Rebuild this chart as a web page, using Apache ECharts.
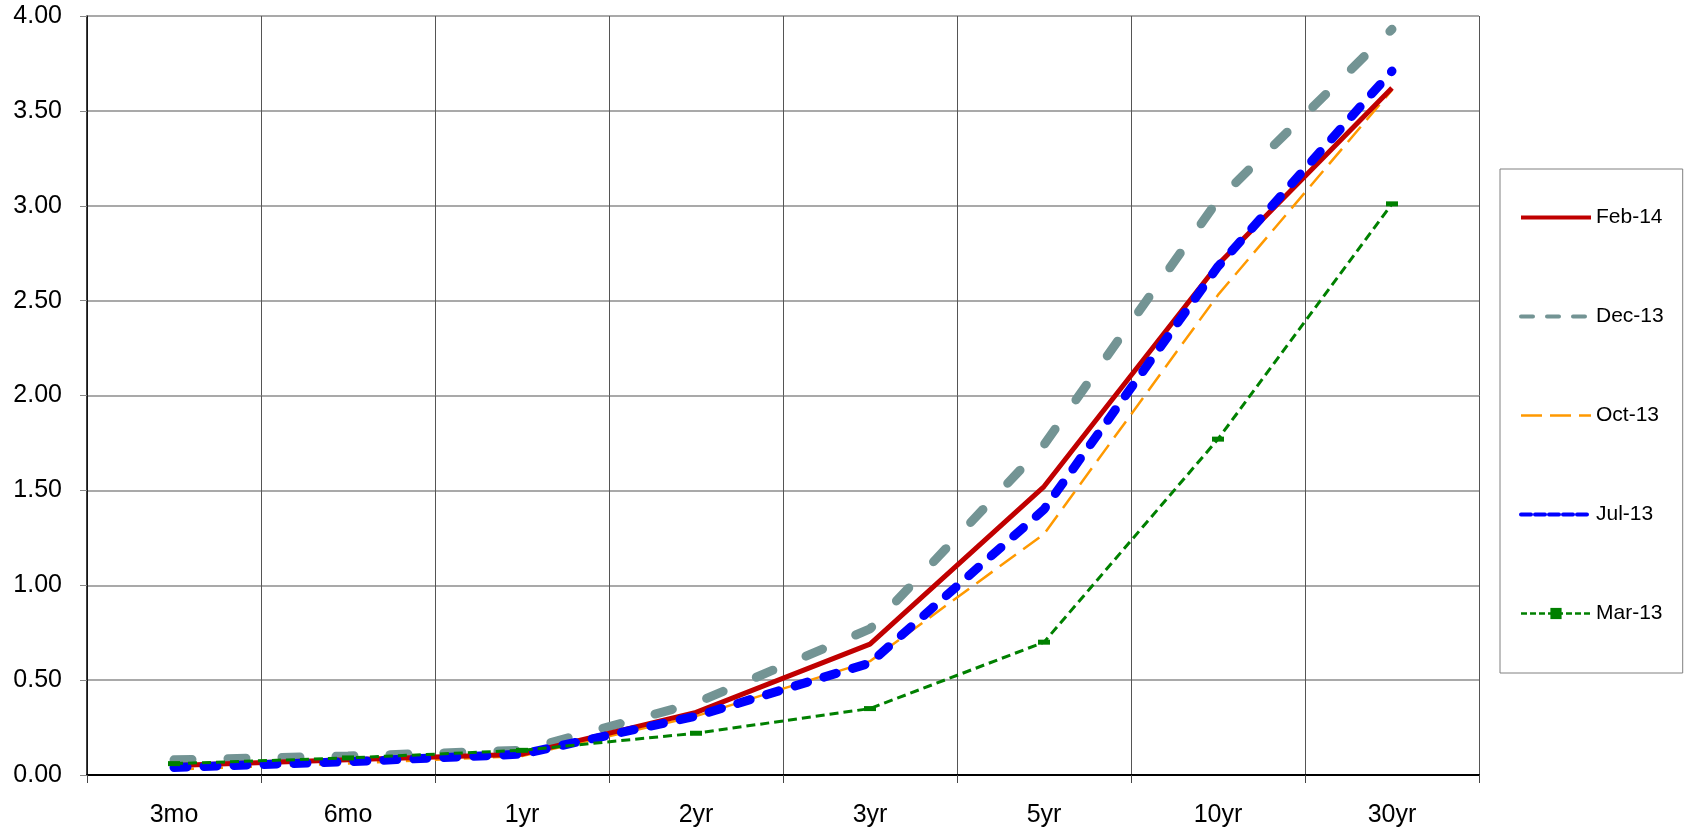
<!DOCTYPE html>
<html>
<head>
<meta charset="utf-8">
<script src="https://cdn.jsdelivr.net/npm/echarts@6/dist/echarts.min.js"></script>
<style>
html,body{margin:0;padding:0;background:#fff;}
#chart{width:1684px;height:833px;}
</style>
</head>
<body>
<div id="chart"></div>
<script>
var categories = ['3mo', '6mo', '1yr', '2yr', '3yr', '5yr', '10yr', '30yr'];
var feb14 = [0.05, 0.08, 0.11, 0.33, 0.69, 1.52, 2.69, 3.62];
var dec13 = [0.08, 0.10, 0.13, 0.38, 0.77, 1.74, 3.03, 3.93];
var oct13 = [0.03, 0.06, 0.10, 0.31, 0.60, 1.27, 2.53, 3.61];
var jul13 = [0.04, 0.07, 0.11, 0.31, 0.59, 1.40, 2.68, 3.71];
var mar13 = [0.06, 0.09, 0.13, 0.22, 0.35, 0.70, 1.77, 3.01];
var seriesNames = ['Feb-14', 'Dec-13', 'Oct-13', 'Jul-13', 'Mar-13'];

var FONT = 'Liberation Sans, Arial, sans-serif';
var chart = echarts.init(document.getElementById('chart'), null, {renderer: 'canvas'});
chart.setOption({
  animation: false,
  backgroundColor: '#ffffff',
  grid: {left: 87, right: 205, top: 16, bottom: 58},
  legend: {
    orient: 'vertical',
    left: 1500,
    top: 169,
    padding: [38, 19, 49, 19],
    borderColor: '#808080',
    borderWidth: 1,
    itemWidth: 70,
    itemHeight: 14,
    itemGap: 78,
    textStyle: {fontFamily: FONT, fontSize: 21, color: '#000'},
    data: [
      {name: seriesNames[0], itemStyle: {opacity: 0}, lineStyle: {width: 4, type: 'solid', color: '#c00000'}},
      {name: seriesNames[1], itemStyle: {opacity: 0}, lineStyle: {width: 4, type: [12, 14], color: '#739494'}},
      {name: seriesNames[2], itemStyle: {opacity: 0}, lineStyle: {width: 2.5, type: [21, 8], color: '#ff9900'}},
      {name: seriesNames[3], itemStyle: {opacity: 0}, lineStyle: {width: 4, type: [10, 4], color: '#0000ff'}},
      {name: seriesNames[4], lineStyle: {width: 2.5, type: [6, 3], color: '#008000'}}
    ]
  },
  xAxis: {
    type: 'category',
    data: categories,
    boundaryGap: true,
    axisLine: {lineStyle: {color: '#000', width: 2}},
    axisTick: {show: true, length: 8, interval: 0, lineStyle: {color: '#444', width: 1}},
    axisLabel: {fontFamily: FONT, fontSize: 25, color: '#000', margin: 28, interval: 0},
    splitLine: {show: true, interval: 0, lineStyle: {color: '#555', width: 1}}
  },
  yAxis: {
    type: 'value',
    min: 0, max: 4, interval: 0.5,
    axisLine: {show: true, lineStyle: {color: '#000', width: 1.5}},
    axisTick: {show: true, length: 7, lineStyle: {color: '#888'}},
    axisLabel: {fontFamily: FONT, fontSize: 25, color: '#000', margin: 25,
      formatter: function (v) { return v.toFixed(2); }},
    splitLine: {show: true, lineStyle: {color: '#8c8c8c', width: 1.5}}
  },
  series: [
    {name: 'Feb-14', type: 'line', data: feb14, symbol: 'none', z: 4,
     lineStyle: {color: '#c00000', width: 5, type: 'solid'}, itemStyle: {color: '#c00000'}},
    {name: 'Dec-13', type: 'line', data: dec13, symbol: 'none', z: 2,
     lineStyle: {color: '#739494', width: 9, type: [18, 36], cap: 'round'}, itemStyle: {color: '#739494'}},
    {name: 'Oct-13', type: 'line', data: oct13, symbol: 'none', z: 3,
     lineStyle: {color: '#ff9900', width: 2.5, type: [20, 9]}, itemStyle: {color: '#ff9900'}},
    {name: 'Jul-13', type: 'line', data: jul13, symbol: 'none', z: 5,
     lineStyle: {color: '#0000ff', width: 9, type: [13, 17], cap: 'round'}, itemStyle: {color: '#0000ff'}},
    {name: 'Mar-13', type: 'line', data: mar13, symbol: 'rect', symbolSize: [12, 5], showSymbol: true, z: 6,
     lineStyle: {color: '#008000', width: 3, type: [9, 5]}, itemStyle: {color: '#008000', borderWidth: 0}}
  ]
});
</script>
</body>
</html>
